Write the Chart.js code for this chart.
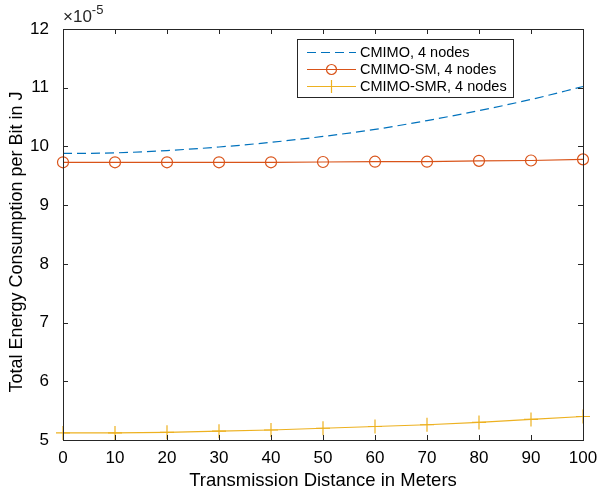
<!DOCTYPE html>
<html>
<head>
<meta charset="utf-8">
<script src="https://cdn.jsdelivr.net/npm/chart.js@4"></script>
<style>
  html, body { margin: 0; padding: 0; background: #fff; }
  #wrap { width: 600px; height: 493px; }
</style>
</head>
<body>
<div id="wrap"><canvas id="chart" width="600" height="493"></canvas></div>
<script>
// distances in meters
const distances = [0, 10, 20, 30, 40, 50, 60, 70, 80, 90, 100];
// energy per bit, in units of 1e-5 J
const cmimo = [9.88, 9.89, 9.93, 9.99, 10.07, 10.17, 10.29, 10.44, 10.61, 10.80, 11.02];
const cmimoSM = [9.73, 9.73, 9.73, 9.73, 9.73, 9.735, 9.74, 9.74, 9.755, 9.76, 9.78];
const cmimoSMR = [5.12, 5.12, 5.13, 5.15, 5.17, 5.20, 5.23, 5.26, 5.30, 5.35, 5.40];
const seriesNames = ['CMIMO, 4 nodes', 'CMIMO-SM, 4 nodes', 'CMIMO-SMR, 4 nodes'];
const xTicks = [0, 10, 20, 30, 40, 50, 60, 70, 80, 90, 100];
const yTicks = [5, 6, 7, 8, 9, 10, 11, 12];

const FONT = '"Liberation Sans", Arial, Helvetica, sans-serif';
const colors = ['#0072BD', '#D95319', '#EDB120'];

function toPoints(values) {
    return distances.map((d, i) => ({ x: d, y: values[i] }));
}

// box, inward ticks, y label, exponent label and legend, drawn the MATLAB way
const matlabFrame = {
    id: 'matlabFrame',
    afterDraw(chart) {
        const ctx = chart.ctx;
        const a = chart.chartArea;
        const xs = chart.scales.x, ys = chart.scales.y;
        ctx.save();
        ctx.strokeStyle = '#262626';
        ctx.lineWidth = 1;
        ctx.strokeRect(Math.round(a.left) + 0.5, Math.round(a.top) + 0.5,
            Math.round(a.right - a.left), Math.round(a.bottom - a.top));
        const tl = 5;
        ctx.beginPath();
        xTicks.forEach(v => {
            const px = Math.round(xs.getPixelForValue(v)) + 0.5;
            ctx.moveTo(px, a.bottom); ctx.lineTo(px, a.bottom - tl);
            ctx.moveTo(px, a.top); ctx.lineTo(px, a.top + tl);
        });
        yTicks.forEach(v => {
            const py = Math.round(ys.getPixelForValue(v)) + 0.5;
            ctx.moveTo(a.left, py); ctx.lineTo(a.left + tl, py);
            ctx.moveTo(a.right, py); ctx.lineTo(a.right - tl, py);
        });
        ctx.stroke();

        // y axis label
        ctx.fillStyle = '#000';
        ctx.font = '18px ' + FONT;
        ctx.textAlign = 'center';
        ctx.textBaseline = 'middle';
        ctx.translate(17, 242);
        ctx.rotate(-Math.PI / 2);
        ctx.fillText('Total Energy Consumption per Bit in J', 0, 0);
        ctx.setTransform(1, 0, 0, 1, 0, 0);

        // x10^-5
        ctx.fillStyle = '#262626';
        ctx.textBaseline = 'alphabetic';
        ctx.textAlign = 'left';
        ctx.font = '17px ' + FONT;
        ctx.fillText('\u00d710', a.left, a.top - 7);
        const w = ctx.measureText('\u00d710').width;
        ctx.font = '13px ' + FONT;
        ctx.fillText('-5', a.left + w, a.top - 15);

        // legend
        const lx = 297, ly = 39, lw = 216, lh = 58;
        ctx.fillStyle = '#fff';
        ctx.fillRect(lx, ly, lw, lh);
        ctx.strokeStyle = '#262626';
        ctx.strokeRect(lx + 0.5, ly + 0.5, lw, lh);
        ctx.font = '14.5px ' + FONT;
        ctx.textBaseline = 'middle';
        const rows = [52, 69, 86];
        seriesNames.forEach((name, i) => {
            const y = rows[i];
            ctx.strokeStyle = colors[i];
            ctx.lineWidth = 1.2;
            ctx.setLineDash(i === 0 ? [9, 5] : []);
            ctx.beginPath();
            ctx.moveTo(307, y + 0.5); ctx.lineTo(356, y + 0.5);
            ctx.stroke();
            ctx.setLineDash([]);
            if (i === 1) {
                ctx.beginPath();
                ctx.arc(331.5, y + 0.5, 5, 0, Math.PI * 2);
                ctx.stroke();
            } else if (i === 2) {
                ctx.beginPath();
                ctx.moveTo(331.5, y - 6); ctx.lineTo(331.5, y + 7);
                ctx.moveTo(325, y + 0.5); ctx.lineTo(338, y + 0.5);
                ctx.stroke();
            }
            ctx.fillStyle = '#000';
            ctx.fillText(name, 360, y + 1);
        });
        ctx.restore();
    }
};

const ctx = document.getElementById('chart').getContext('2d');
new Chart(ctx, {
    type: 'line',
    data: {
        datasets: [
            {
                label: seriesNames[0],
                data: toPoints(cmimo),
                borderColor: colors[0],
                borderWidth: 1.2,
                borderDash: [9, 5],
                pointRadius: 0,
                tension: 0.4,
                cubicInterpolationMode: 'monotone'
            },
            {
                label: seriesNames[1],
                data: toPoints(cmimoSM),
                borderColor: colors[1],
                backgroundColor: 'rgba(0,0,0,0)',
                borderWidth: 1.2,
                pointStyle: 'circle',
                pointRadius: 5.5,
                pointBorderWidth: 1.2,
                pointBorderColor: colors[1],
                pointBackgroundColor: 'rgba(0,0,0,0)'
            },
            {
                label: seriesNames[2],
                data: toPoints(cmimoSMR),
                borderColor: colors[2],
                borderWidth: 1.2,
                pointStyle: 'cross',
                pointRadius: 7,
                pointBorderWidth: 1.2,
                pointBorderColor: colors[2]
            }
        ]
    },
    options: {
        responsive: false,
        animation: false,
        clip: false,
        layout: { padding: { left: 0, right: 17, top: 29, bottom: 1 } },
        plugins: {
            legend: { display: false },
            tooltip: { enabled: false }
        },
        scales: {
            x: {
                type: 'linear',
                min: 0,
                max: 100,
                afterBuildTicks: s => { s.ticks = xTicks.map(v => ({ value: v })); },
                afterFit: s => { s.height = 52; },
                grid: { display: false },
                border: { display: false },
                ticks: { color: '#000', font: { family: FONT, size: 17 }, padding: 0, maxRotation: 0 },
                title: {
                    display: true,
                    text: 'Transmission Distance in Meters',
                    color: '#000',
                    font: { family: FONT, size: 18.5 },
                    padding: { top: 0, bottom: 0 }
                }
            },
            y: {
                type: 'linear',
                min: 5,
                max: 12,
                afterBuildTicks: s => { s.ticks = yTicks.map(v => ({ value: v })); },
                afterFit: s => { s.width = 63; },
                grid: { display: false },
                border: { display: false },
                ticks: { color: '#000', font: { family: FONT, size: 17 }, padding: 6 }
            }
        }
    },
    plugins: [matlabFrame]
});
</script>
</body>
</html>
